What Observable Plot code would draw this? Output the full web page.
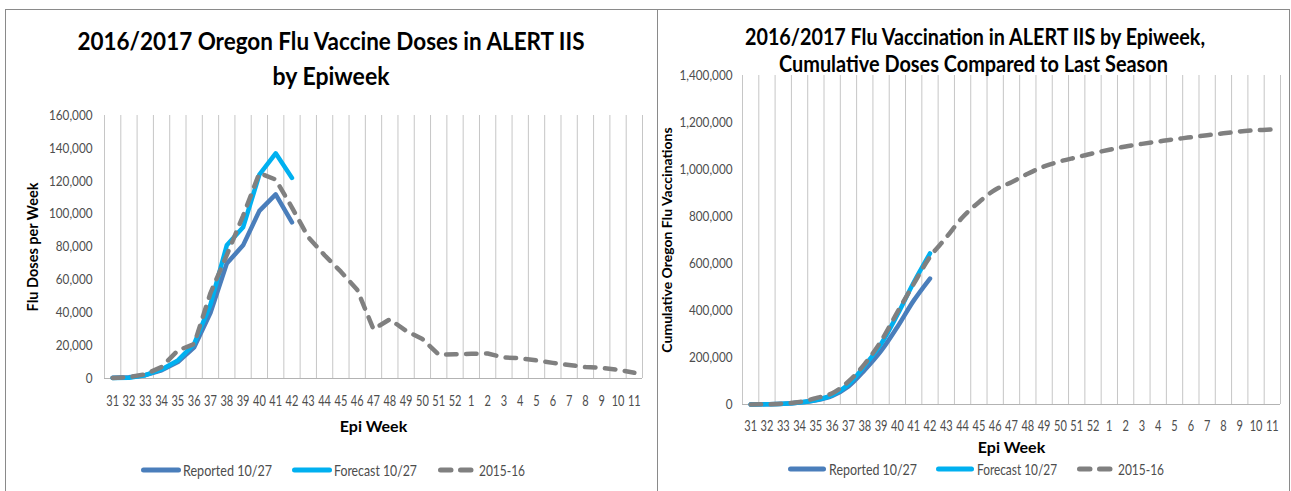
<!DOCTYPE html>
<html>
<head>
<meta charset="utf-8">
<script src="https://cdn.jsdelivr.net/npm/d3@7"></script>
<script src="https://cdn.jsdelivr.net/npm/@observablehq/plot@0.6"></script>
<style>
  html, body { margin: 0; padding: 0; background: #fff; }
  #wrap { position: relative; width: 1291px; height: 491px; overflow: hidden; background: #fff; font-family: Lato, "Open Sans", sans-serif; }
  .chart { position: absolute; top: 0; height: 491px; }
  #overlay { position: absolute; left: 0; top: 0; pointer-events: none; }
</style>
</head>
<body>
<div id="wrap">
  <div id="left" class="chart" style="left:0;width:657px"></div>
  <div id="right" class="chart" style="left:657px;width:634px"></div>
</div>
<script>
// ---------------- data ----------------
const weeks = ["31","32","33","34","35","36","37","38","39","40","41","42","43","44","45","46","47","48","49","50","51","52","1","2","3","4","5","6","7","8","9","10","11"];

const seriesNames = ["Reported 10/27", "Forecast 10/27", "2015-16"];

// weekly doses (left chart)
const weeklyReported = [500, 800, 2000, 5000, 10000, 19000, 40000, 70000, 81000, 102000, 112000, 95000];
const weeklyForecast = [300, 500, 2000, 5500, 11000, 21000, 45000, 81000, 92000, 124000, 137000, 122000];
const weekly201516 = [300, 800, 2600, 7000, 17000, 21000, 52000, 75000, 99000, 125000, 121000, 104000, 86000, 75000, 65000, 54000, 30000, 36000, 29000, 24000, 14500, 14800, 15000, 15200, 12800, 12300, 11000, 9500, 8200, 7000, 6400, 5300, 3500];

// cumulative doses (right chart)
const cumReported = [500, 1300, 3300, 8300, 18000, 37000, 77000, 147000, 228000, 330000, 442000, 536000];
const cumForecast = [300, 800, 2800, 8300, 19000, 40000, 85000, 166000, 258000, 382000, 519000, 643000];
const cum201516 = [300, 1100, 3700, 10700, 27000, 48000, 98000, 173000, 270000, 393000, 513000, 628000, 711000, 797000, 861000, 914000, 946000, 982000, 1013000, 1035000, 1052000, 1069000, 1084000, 1098000, 1109000, 1119000, 1129000, 1137000, 1146000, 1154000, 1162000, 1167000, 1170000];

const yTicksWeekly = [0, 20000, 40000, 60000, 80000, 100000, 120000, 140000, 160000];
const yTicksCumulative = [0, 200000, 400000, 600000, 800000, 1000000, 1200000, 1400000];

const leftTitle = ["2016/2017 Oregon Flu Vaccine Doses in ALERT IIS", "by Epiweek"];
const rightTitle = ["2016/2017 Flu Vaccination in ALERT IIS by Epiweek,", "Cumulative Doses Compared to Last Season"];
const xTitle = "Epi Week";
const leftYTitle = "Flu Doses per Week";
const rightYTitle = "Cumulative Oregon Flu Vaccinations";

// ---------------- styles ----------------
const COLORS = ["#4a7ebb", "#00b0f0", "#808080"];
const DASH = "10.5,9.5";
const LW = 4.5;

// ---------------- helpers ----------------
function scaleText(t, k) {
  let tr = t.getAttribute("transform");
  if (!tr) {
    const x = +t.getAttribute("x") || 0, y = +t.getAttribute("y") || 0;
    t.removeAttribute("x"); t.removeAttribute("y");
    tr = `translate(${x},${y})`;
  }
  t.setAttribute("transform", `${tr} scale(${k},1)`);
}
function squeeze(svg, label, k) {
  svg.querySelectorAll(`[aria-label="${label}"] text`).forEach(t => scaleText(t, k));
}
function fitLabel(svg, label, target) {
  svg.querySelectorAll(`[aria-label="${label}"] text`).forEach(t => {
    const w = t.getComputedTextLength();
    if (w > 0) scaleText(t, target / w);
  });
}

function makeChart(o) {
  const idx = weeks.map((d, i) => i);
  const bounds = d3.range(weeks.length + 1).map(i => i - 0.5);
  const rows = vals => vals.map((v, i) => ({i, v}));
  const lineOpts = s => ({x: "i", y: "v", stroke: COLORS[s], strokeWidth: LW, curve: o.curve, strokeLinecap: "round", strokeLinejoin: "round"});
  return Plot.plot({
    width: o.width, height: 491,
    marginLeft: o.ml, marginRight: o.mr, marginTop: o.mt, marginBottom: o.mb,
    x: {type: "linear", domain: [-0.5, weeks.length - 0.5]},
    y: {type: "linear", domain: [0, o.yMax]},
    style: {background: "none", fontFamily: "Lato, 'Open Sans', sans-serif", overflow: "visible"},
    marks: [
      Plot.ruleX(bounds, {stroke: "#c6c6c6", strokeWidth: 1}),
      Plot.ruleY([0], {stroke: "#b3b3b3", strokeWidth: 1}),
      Plot.axisY(o.yTicks, {tickSize: 0, tickPadding: o.yPad, tickFormat: d3.format(","), fontSize: 13.5, color: "#4d4d4d", label: null}),
      Plot.axisX(idx, {tickSize: 0, tickPadding: o.xPad, tickFormat: i => weeks[i], fontSize: 14.5, color: "#4d4d4d", label: null}),
      Plot.line(rows(o.series[0]), lineOpts(0)),
      Plot.line(rows(o.series[1]), lineOpts(1)),
      Plot.line(rows(o.series[2]), {...lineOpts(2), strokeDasharray: DASH, strokeLinecap: "round"}),
      Plot.text([xTitle], {text: d => d, frameAnchor: "bottom", dy: o.xLabelDy, textAnchor: "middle", lineAnchor: "middle", fontSize: 16, fontWeight: "bold", fill: "#000", ariaLabel: "x-axis title"}),
      Plot.text([o.yLabel], {text: d => d, frameAnchor: "left", dx: o.yLabelDx, rotate: -90, textAnchor: "middle", lineAnchor: "middle", fontSize: o.yLabelSize, fontWeight: "bold", fill: "#000", ariaLabel: "y-axis title"})
    ]
  });
}

// ---------------- charts ----------------
const left = makeChart({
  width: 657, ml: 104, mr: 15, mt: 115, mb: 113,
  yMax: 160000, yTicks: yTicksWeekly, yPad: 12, xPad: 17,
  series: [weeklyReported, weeklyForecast, weekly201516],
  curve: "linear", xLabelDy: 48, yLabel: leftYTitle, yLabelDx: -71, yLabelSize: 14.5
});
document.getElementById("left").append(left);

const right = makeChart({
  width: 634, ml: 85, mr: 11, mt: 75, mb: 87,
  yMax: 1400000, yTicks: yTicksCumulative, yPad: 10, xPad: 16,
  series: [cumReported, cumForecast, cum201516],
  curve: "catmull-rom", xLabelDy: 43, yLabel: rightYTitle, yLabelDx: -75, yLabelSize: 14
});
document.getElementById("right").append(right);

for (const svg of [left, right]) {
  squeeze(svg, "x-axis tick label", 0.76);
  squeeze(svg, "y-axis tick label", 0.87);
}
fitLabel(left, "x-axis title", 58);
fitLabel(right, "x-axis title", 54);
fitLabel(left, "y-axis title", 133);
fitLabel(right, "y-axis title", 227);

// ---------------- overlay: frames, titles, legends ----------------
const ov = d3.select("#wrap").append("svg")
  .attr("id", "overlay").attr("width", 1291).attr("height", 491)
  .attr("font-family", "Lato, 'Open Sans', sans-serif");

// panel frames
ov.append("rect").attr("x", 5.5).attr("y", 9.5).attr("width", 652).attr("height", 600)
  .attr("fill", "none").attr("stroke", "#8a8a8a");
ov.append("rect").attr("x", 657.5).attr("y", 9.5).attr("width", 632).attr("height", 600)
  .attr("fill", "none").attr("stroke", "#8a8a8a");

function title(lines, cx, baselines, size, widths) {
  lines.forEach((s, j) => {
    ov.append("text").attr("x", cx[j]).attr("y", baselines[j])
      .attr("text-anchor", "middle").attr("font-weight", "bold").attr("font-size", size)
      .attr("fill", "#000")
      .attr("textLength", widths[j]).attr("lengthAdjust", "spacingAndGlyphs")
      .text(s);
  });
}
title(leftTitle, [331, 331], [50, 85], 25.5, [507, 117]);
title(rightTitle, [975, 973.5], [45, 72], 22.5, [460, 389]);

function legend(y, layout) {
  seriesNames.forEach((name, s) => {
    const [x0, x1, lx, lw] = layout[s];
    const ln = ov.append("line").attr("x1", x0 + 2.5).attr("x2", x1 - 2.5).attr("y1", y).attr("y2", y)
      .attr("stroke", COLORS[s]).attr("stroke-width", 5).attr("stroke-linecap", "round");
    if (s === 2) ln.attr("stroke-dasharray", DASH);
    ov.append("text").attr("x", lx).attr("y", y + 5.6)
      .attr("font-size", 16).attr("fill", "#4d4d4d")
      .attr("textLength", lw).attr("lengthAdjust", "spacingAndGlyphs")
      .text(name);
  });
}
legend(470, [[141, 181, 183, 89], [292, 332, 334, 83], [438, 475, 479, 46]]);
legend(469, [[788, 826, 829, 88], [936, 974, 977, 80], [1077, 1113, 1118, 46]]);
</script>
</body>
</html>
